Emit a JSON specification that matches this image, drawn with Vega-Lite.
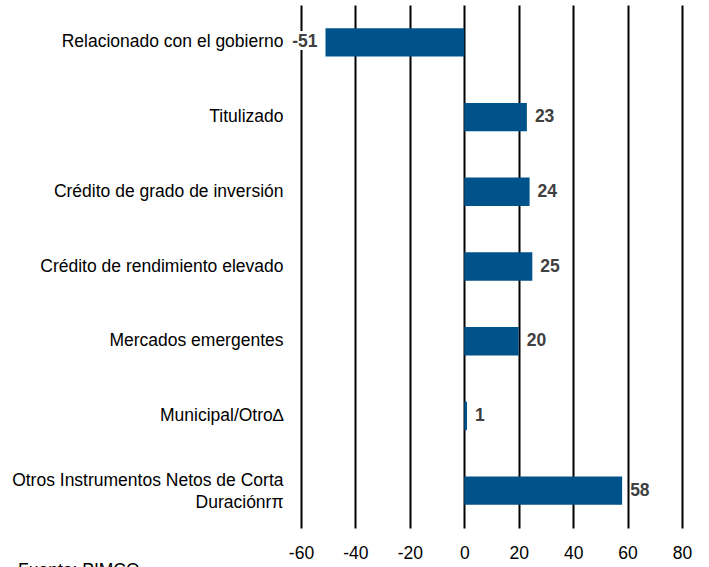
{
  "$schema": "https://vega.github.io/schema/vega-lite/v6.json",
  "autosize": "none",
  "width": 381,
  "height": 523,
  "padding": {"left": 301, "top": 5, "right": 27, "bottom": 39},
  "background": "white",
  "config": {
    "view": {"stroke": null},
    "font": "Liberation Sans",
    "locale": {
      "number": {"decimal": ".", "thousands": ",", "grouping": [3], "currency": ["$", ""], "minus": "-"}
    }
  },
  "title": {
    "text": "Fuente: PIMCO",
    "orient": "bottom",
    "anchor": "start",
    "frame": "group",
    "dx": -283,
    "offset": 0,
    "baseline": "top",
    "fontSize": 17.5,
    "fontWeight": "normal",
    "font": "Liberation Sans",
    "color": "#000000"
  },
  "data": {
    "values": [
      {"category": "Relacionado con el gobierno", "value": -51},
      {"category": "Titulizado", "value": 23},
      {"category": "Crédito de grado de inversión", "value": 24},
      {"category": "Crédito de rendimiento elevado", "value": 25},
      {"category": "Mercados emergentes", "value": 20},
      {"category": "Municipal/Otro∆", "value": 1},
      {"category": "Otros Instrumentos Netos de Corta|Duraciónrπ", "value": 58}
    ]
  },
  "encoding": {
    "y": {
      "field": "category",
      "type": "nominal",
      "sort": null,
      "scale": {"paddingInner": 0.62, "paddingOuter": 0.31},
      "axis": {
        "title": null,
        "domain": false,
        "ticks": false,
        "grid": false,
        "labelPadding": 18,
        "labelFontSize": 17.5,
        "labelColor": "#000000",
        "labelLimit": 400,
        "labelLineHeight": 22,
        "labelOffset": {"condition": {"test": "indexof(datum.value, '|') >= 0", "value": -10}, "value": 0},
        "labelExpr": "split(datum.label, '|')"
      }
    },
    "x": {
      "field": "value",
      "type": "quantitative",
      "scale": {"domain": [-60, 80], "nice": false},
      "axis": {
        "title": null,
        "values": [-60, -40, -20, 0, 20, 40, 60, 80],
        "domain": false,
        "ticks": false,
        "grid": true,
        "gridColor": "#000000",
        "gridWidth": 2,
        "gridOpacity": 1,
        "labelPadding": 16,
        "labelFontSize": 17.5,
        "labelColor": "#000000",
        "labelFlush": false
      }
    }
  },
  "layer": [
    {
      "mark": {"type": "bar", "color": "#00538A"},
      "encoding": {"x": {"field": "value", "type": "quantitative"}, "x2": {"datum": 0}}
    },
    {
      "transform": [{"filter": "datum.value >= 0"}],
      "mark": {"type": "text", "align": "left", "baseline": "middle", "dx": 8, "fontSize": 17.5, "fontWeight": "bold", "color": "#404040"},
      "encoding": {"text": {"field": "value", "type": "quantitative"}}
    },
    {
      "transform": [{"filter": "datum.value < 0"}],
      "mark": {"type": "text", "align": "right", "baseline": "middle", "dx": -8, "fontSize": 17.5, "fontWeight": "bold", "color": "#404040", "stroke": "white", "strokeWidth": 6, "strokeJoin": "round"},
      "encoding": {"text": {"field": "value", "type": "quantitative"}}
    },
    {
      "transform": [{"filter": "datum.value < 0"}],
      "mark": {"type": "text", "align": "right", "baseline": "middle", "dx": -8, "fontSize": 17.5, "fontWeight": "bold", "color": "#404040"},
      "encoding": {"text": {"field": "value", "type": "quantitative"}}
    }
  ]
}
